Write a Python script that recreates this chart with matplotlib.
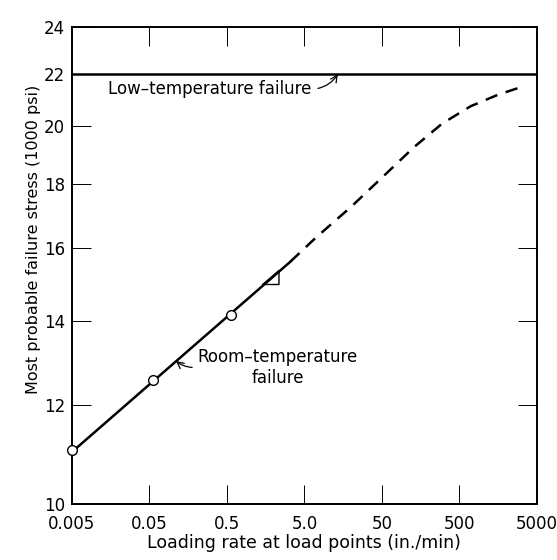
# Failure stress vs loading rate, recreated from a scanned textbook figure.
import numpy as np
from matplotlib import pyplot as plt
import matplotlib

matplotlib.rcParams.update({'font.family': 'DejaVu Sans', 'font.size': 12})

# room-temperature test points (open circles)
pts_rate = [0.005, 0.055, 0.56]
pts_stress = [11.05, 12.55, 14.15]

# solid fitted line
solid_rate = [0.005, 3.3]
solid_stress = [11.0, 15.6]

# dashed extrapolation
dash_rate = [3.3, 7, 20, 50, 130, 300, 700, 1600, 3200]
dash_stress = [15.6, 16.3, 17.25, 18.2, 19.25, 20.1, 20.75, 21.2, 21.5]

# low-temperature failure level
low_temp = 22.0

# little slope triangle under the line
tri_rate = [1.45, 2.35, 2.35, 1.45]
tri_stress = [14.96, 14.96, 15.35, 14.96]

xticks = [0.005, 0.05, 0.5, 5.0, 50, 500, 5000]
xticklabels = ['0.005', '0.05', '0.5', '5.0', '50', '500', '5000']
yticks = [10, 12, 14, 16, 18, 20, 22, 24]

fig = plt.figure(figsize=(5.57, 5.60), dpi=100)
ax = fig.add_axes([0.129, 0.10, 0.835, 0.852])

ax.set_xscale('log')
ax.set_yscale('log')

ax.axhline(low_temp, color='black', lw=1.8)
ax.plot(solid_rate, solid_stress, '-', color='black', lw=1.8)
ax.plot(dash_rate, dash_stress, '--', color='black', lw=1.8, dashes=(5, 3.5))
ax.plot(tri_rate, tri_stress, '-', color='black', lw=1.0)
ax.plot(pts_rate, pts_stress, 'o', ms=7, mfc='white', mec='black', mew=1.0,
        clip_on=False, zorder=5)

ax.set_xlim(0.005, 5000)
ax.set_ylim(10, 24)
ax.set_xticks(xticks)
ax.set_xticklabels(xticklabels)
ax.xaxis.set_minor_locator(matplotlib.ticker.NullLocator())
ax.set_yticks(yticks)
ax.set_yticklabels([str(v) for v in yticks])
ax.yaxis.set_minor_locator(matplotlib.ticker.NullLocator())
ax.tick_params(direction='in', length=14, width=0.7, top=True, right=True,
               labelsize=12)
ax.tick_params(axis='x', pad=8)
ax.tick_params(axis='y', pad=5)
for s in ax.spines.values():
    s.set_linewidth(1.4)

ax.annotate('Low\u2013temperature failure', xy=(13.5, 22.0), xytext=(0.0145, 21.4),
            ha='left', va='center', fontsize=12,
            arrowprops=dict(arrowstyle='->', lw=0.9, color='black',
                            connectionstyle='arc3,rad=0.25', relpos=(1, 0.5),
                            shrinkA=3, shrinkB=0))
ax.annotate('Room\u2013temperature\nfailure', xy=(0.11, 13.0), xytext=(0.21, 12.85),
            ha='left', va='center', multialignment='center', fontsize=12,
            arrowprops=dict(arrowstyle='->', lw=0.9, color='black',
                            connectionstyle='arc3,rad=-0.2', relpos=(0, 0.5),
                            shrinkA=2, shrinkB=0))

ax.set_xlabel('Loading rate at load points (in./min)', fontsize=12.5, labelpad=1)
ax.set_ylabel('Most probable failure stress (1000 psi)', fontsize=11.5)
ax.yaxis.set_label_coords(-0.067, 0.555)

plt.savefig('out.png', dpi=100)
